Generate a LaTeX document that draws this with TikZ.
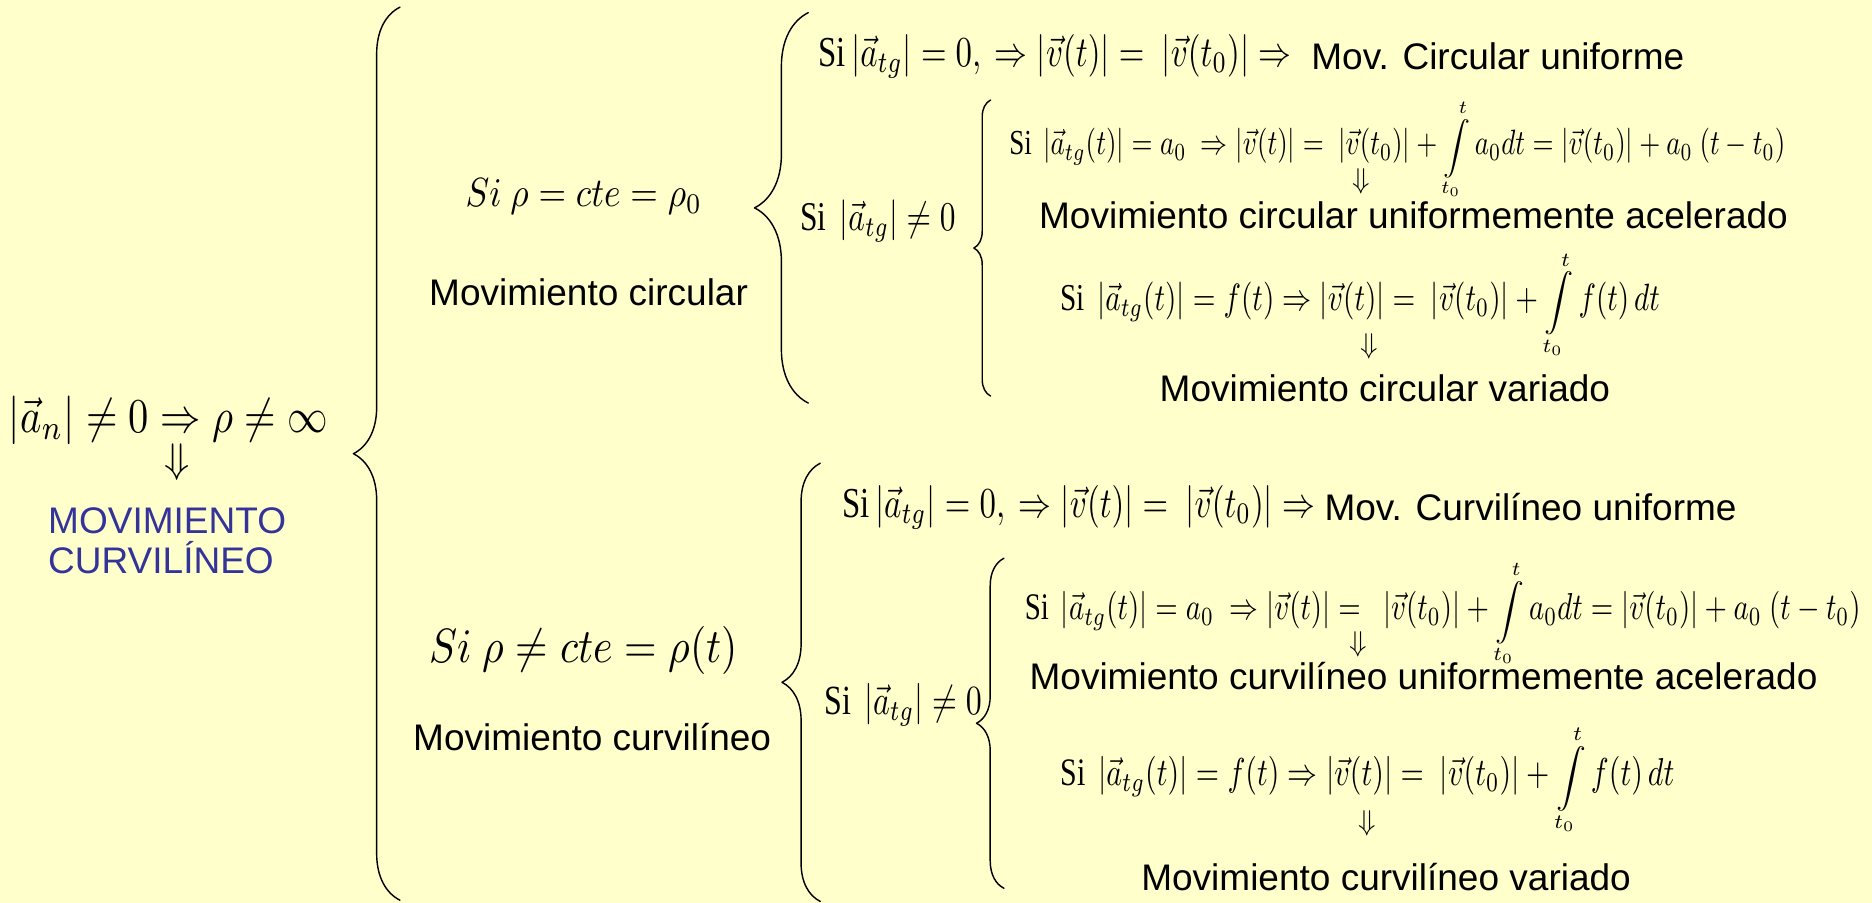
\documentclass[tikz,border=0pt]{standalone}
\usepackage{amsmath,amssymb}
\usepackage{graphicx}
\usepackage{fontspec}
\setmainfont{Liberation Serif}
\setsansfont{Liberation Sans}
\usetikzlibrary{decorations.pathreplacing}
\definecolor{paper}{HTML}{FFFFCC}
\definecolor{titleblue}{HTML}{333399}
\newcommand{\fitw}[3][1.3]{\scalebox{1}[#1]{\resizebox{#2}{!}{$#3$}}}
\newcommand{\nrm}[1]{\left|#1\right|}
\newcommand{\intfrom}[2]{\mathop{\scalebox{1}[0.75]{$\displaystyle\int\limits_{#1}^{#2}$}}}

\begin{document}
\begin{tikzpicture}[x=0.5pt,y=-0.5pt,line cap=round,line join=round,
    sanstext/.style={font=\sffamily\fontsize{15.5}{16.5}\selectfont,inner sep=0pt},
    formula/.style={inner sep=0pt},
    downarrow/.style={inner sep=0pt,font=\fontsize{12}{12}\selectfont},
    curly/.style={decorate,decoration={brace,amplitude=#1},line width=.6pt}]
    % Background of the slide.
    \fill[paper] (0,0) rectangle (1568,756);
    \useasboundingbox (0,0) rectangle (1568,756);

    % The condition on the left and its consequence.
    \node[formula] (an) at (141,352) {\fitw[1.2]{133.5pt}{\nrm{\vec{a}_n} \neq 0 \Rightarrow \rho \neq \infty}};
    \node[downarrow,font=\fontsize{17}{17}\selectfont] (anarrow) at (148,387) {$\Downarrow$};
    \node[sanstext,text=titleblue,align=left,anchor=west] (curv) at (40,453) {MOVIMIENTO\\CURVIL\'INEO};

    % The big brace and the two cases it opens.
    \coordinate (mainbot) at (335,754);
    \coordinate (maintop) at (335,6);
    \draw[curly=19.5pt] (mainbot) -- (maintop);

    \node[formula] (rhoc) at (489,165) {\fitw[1.15]{99pt}{Si\ \rho = cte = \rho_0}};
    \node[sanstext] (circ) at (493,245) {Movimiento circular};
    \node[formula] (rhov) at (489,545) {\fitw[1.15]{129pt}{Si\ \rho \neq cte = \rho(t)}};
    \node[sanstext] (curvo) at (496,617) {Movimiento curvil\'ineo};

    % Circular case.
    \coordinate (cbot) at (677,337.6);
    \coordinate (ctop) at (677,10.6);
    \draw[curly=22.5pt] (cbot) -- (ctop);
    \node[formula,anchor=west] (c1) at (685,47)
      {\fitw{198pt}{\mathrm{Si}\nrm{\vec{a}_{tg}} = 0,\ \Rightarrow \nrm{\vec{v}(t)} = \ \nrm{\vec{v}(t_0)} \Rightarrow}};
    \node[sanstext,anchor=west] (c1t) at (1098,47) {Mov. Circular uniforme};
    \node[formula,anchor=west] (c2) at (670,185) {\fitw{65pt}{\mathrm{Si}\ \nrm{\vec{a}_{tg}} \neq 0}};

    \coordinate (cibot) at (829.7,331.7);
    \coordinate (citop) at (829.7,83.8);
    \draw[curly=7pt] (cibot) -- (citop);
    \node[formula,anchor=west] (c3) at (845,125)
      {\fitw{325pt}{\mathrm{Si}\ \nrm{\vec{a}_{tg}(t)} = a_0\ \Rightarrow \nrm{\vec{v}(t)} = \ \nrm{\vec{v}(t_0)} + \intfrom{t_0}{t} a_0 dt = \nrm{\vec{v}(t_0)} + a_0\ (t-t_0)}};
    \node[downarrow] (c3arrow) at (1140,152) {$\Downarrow$};
    \node[sanstext,anchor=west] (c3t) at (870,180) {Movimiento circular uniformemente acelerado};
    \node[formula,anchor=west] (c4) at (888,255)
      {\fitw{251pt}{\mathrm{Si}\ \nrm{\vec{a}_{tg}(t)} = f(t) \Rightarrow \nrm{\vec{v}(t)} = \ \nrm{\vec{v}(t_0)} + \intfrom{t_0}{t} f(t)\,dt}};
    \node[downarrow] (c4arrow) at (1147,290) {$\Downarrow$};
    \node[sanstext] (c4t) at (1160,325) {Movimiento circular variado};

    % Curvilinear case.
    \coordinate (vbot) at (687,755);
    \coordinate (vtop) at (687,388);
    \draw[curly=16pt] (vbot) -- (vtop);
    \node[formula,anchor=west] (v1) at (705,425)
      {\fitw{198pt}{\mathrm{Si}\nrm{\vec{a}_{tg}} = 0,\ \Rightarrow \nrm{\vec{v}(t)} = \ \nrm{\vec{v}(t_0)} \Rightarrow}};
    \node[sanstext,anchor=west] (v1t) at (1109,425) {Mov. Curvil\'ineo uniforme};
    \node[formula,anchor=west] (v2) at (690,590) {\fitw{66pt}{\mathrm{Si}\ \nrm{\vec{a}_{tg}} \neq 0}};

    \coordinate (vibot) at (840.9,744);
    \coordinate (vitop) at (840.9,467.6);
    \draw[curly=11.5pt] (vibot) -- (vitop);
    \node[formula,anchor=west] (v3) at (858,514)
      {\fitw{350pt}{\mathrm{Si}\ \nrm{\vec{a}_{tg}(t)} = a_0\ \Rightarrow \nrm{\vec{v}(t)} = \ \ \nrm{\vec{v}(t_0)} + \intfrom{t_0}{t} a_0 dt = \nrm{\vec{v}(t_0)} + a_0\ (t-t_0)}};
    \node[downarrow] (v3arrow) at (1138,540) {$\Downarrow$};
    \node[sanstext,anchor=west] (v3t) at (862,566) {Movimiento curvil\'ineo uniformemente acelerado};
    \node[formula,anchor=west] (v4) at (888,653)
      {\fitw{257pt}{\mathrm{Si}\ \nrm{\vec{a}_{tg}(t)} = f(t) \Rightarrow \nrm{\vec{v}(t)} = \ \nrm{\vec{v}(t_0)} + \intfrom{t_0}{t} f(t)\,dt}};
    \node[downarrow] (v4arrow) at (1145,690) {$\Downarrow$};
    \node[sanstext] (v4t) at (1161,735) {Movimiento curvil\'ineo variado};
\end{tikzpicture}
\end{document}
